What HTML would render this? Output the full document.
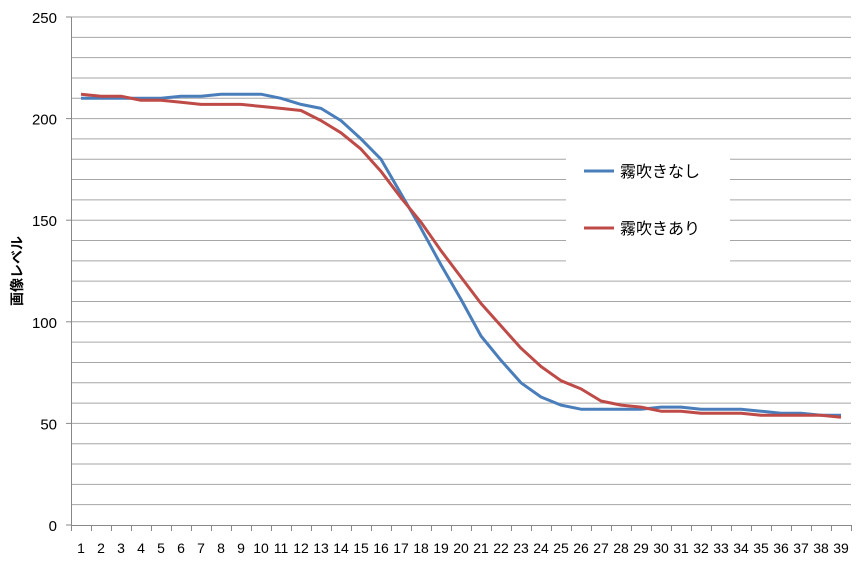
<!DOCTYPE html>
<html><head><meta charset="utf-8"><style>
body{margin:0;background:#fff;width:864px;height:565px;overflow:hidden}
text{font-family:"Liberation Sans","Noto Sans CJK JP",sans-serif;fill:#000}
</style></head><body>
<svg width="864" height="565" xmlns="http://www.w3.org/2000/svg">
<g id="g"></g>
<rect x="566" y="142" width="164" height="128" fill="#fff"/>
<line x1="584" y1="171" x2="614" y2="171" stroke="#4a7ebb" stroke-width="3"/>
<text x="620" y="177" font-size="16">霧吹きなし</text>
<line x1="584" y1="228" x2="614" y2="228" stroke="#be4b48" stroke-width="3"/>
<text x="620" y="234" font-size="16">霧吹きあり</text>
<text transform="translate(22,271) rotate(-90)" font-size="14" font-weight="bold" text-anchor="middle">画像レベル</text>
</svg>
<script>
const g=document.getElementById('g');let s='';
const Y=v=>525-v*2.032;
for(let v=10;v<=250;v+=10){s+=`<line x1="71" x2="851" y1="${Y(v)}" y2="${Y(v)}" stroke="#a6a6a6" stroke-width="1"/>`;}
for(let v=0;v<=250;v+=50){s+=`<line x1="66" x2="71" y1="${Y(v)}" y2="${Y(v)}" stroke="#888"/><text x="57" y="${Y(v)+6}" font-size="15" text-anchor="end">${v}</text>`;}
s+=`<line x1="71.5" x2="71.5" y1="17" y2="525" stroke="#888"/><line x1="71" x2="851" y1="525.5" y2="525.5" stroke="#888"/>`;
for(let i=0;i<=39;i++){const x=71.5+i*20;s+=`<line x1="${x}" x2="${x}" y1="525" y2="531" stroke="#888"/>`;}
for(let i=1;i<=39;i++){s+=`<text x="${81+20*(i-1)}" y="553" font-size="14" text-anchor="middle">${i}</text>`;}
const b=[210,210,210,210,210,211,211,212,212,212,210,207,205,199,190,180,163,146,128,111,93,81,70,63,59,57,57,57,57,58,58,57,57,57,56,55,55,54,54];
const r=[212,211,211,209,209,208,207,207,207,206,205,204,199,193,185,174,161,149,135,122,109,98,87,78,71,67,61,59,58,56,56,55,55,55,54,54,54,54,53];
const p=a=>a.map((v,i)=>`${81+20*i},${Y(v).toFixed(1)}`).join(' ');
s+=`<polyline points="${p(b)}" fill="none" stroke="#4a7ebb" stroke-width="3" stroke-linejoin="round"/>`;
s+=`<polyline points="${p(r)}" fill="none" stroke="#be4b48" stroke-width="3" stroke-linejoin="round"/>`;
g.innerHTML=s;
</script>
</body></html>
